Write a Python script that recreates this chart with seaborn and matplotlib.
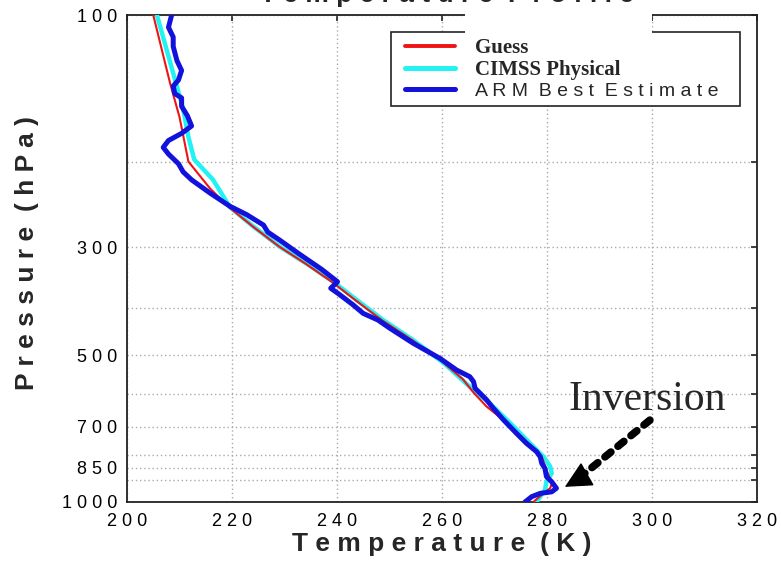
import matplotlib
matplotlib.use("Agg")
import matplotlib.pyplot as plt
import pandas as pd
import seaborn as sns
from matplotlib.lines import Line2D
from matplotlib.patches import Rectangle
from matplotlib.ticker import FixedLocator, NullFormatter

# --- profiles: pressure (hPa) and temperature (K) ---
guess_p = [100, 138, 162, 200, 227, 248, 272, 299, 324, 353, 385, 423, 465,
           510, 560, 596, 637, 689, 758, 807, 859, 917, 937, 960, 1000]
guess_t = [205.0, 208.2, 210.0, 211.7, 215.8, 219.4, 224.0, 229.0, 234.0,
           239.0, 243.5, 248.5, 254.3, 259.6, 264.0, 266.0, 268.5, 272.5,
           276.5, 279.0, 279.9, 280.9, 280.6, 279.3, 277.4]

cimss_p = [100, 156, 178, 198, 218, 248, 272, 299, 324, 353, 385, 423, 465,
           518, 580, 627, 689, 758, 807, 845, 873, 908, 945, 975, 1000]
cimss_t = [205.7, 210.7, 211.7, 212.8, 216.4, 219.6, 224.1, 229.1, 234.2,
           239.3, 243.8, 248.8, 254.5, 260.3, 265.3, 269.1, 273.0, 276.8,
           279.3, 280.6, 280.9, 279.9, 279.6, 278.7, 278.0]

arm_p = [100, 106, 111, 116, 124, 130, 136, 140, 145, 148, 154, 161, 169,
         175, 181, 187, 193, 202, 210, 218, 232, 247, 257, 270, 279, 290,
         309, 333, 353, 364, 373, 394, 410, 423, 440, 472, 507, 536, 553,
         566, 584, 617, 637, 678, 723, 758, 788, 807, 833, 853, 887, 909,
         937, 953, 960, 975, 1000]
arm_t = [208.5, 207.9, 208.8, 208.8, 209.5, 210.4, 209.8, 208.8, 209.1,
         210.4, 210.4, 211.5, 212.3, 210.4, 207.9, 206.9, 207.9, 209.8,
         210.7, 212.3, 215.8, 219.6, 222.8, 226.0, 226.8, 229.1, 232.7,
         237.1, 240.1, 238.8, 240.2, 243.1, 245.0, 247.8, 250.1, 254.5,
         259.6, 262.8, 265.3, 266.0, 266.3, 268.5, 269.5, 271.7, 274.2,
         276.1, 278.0, 278.7, 279.0, 279.6, 279.9, 280.9, 281.8, 280.9,
         278.7, 277.1, 275.8]

series_names = ["Guess", "CIMSS Physical", "ARM Best Estimate"]

x_ticks = [200, 220, 240, 260, 280, 300, 320]
y_ticks = [100, 300, 500, 700, 850, 1000]
y_minor = [200, 400, 600, 800, 900]

RED, CYAN, BLUE = "#ee1414", "#22f2f2", "#1212dc"


def spaced(s):
    """Letter-spaced rendering of a label."""
    return "  ".join(" ".join(w) for w in s.split(" "))


sns.set_theme(style="white")
plt.rcParams["font.family"] = ["Liberation Sans", "DejaVu Sans"]

fig = plt.figure(figsize=(7.81, 5.78), dpi=100)
ax = fig.add_axes([127 / 781, 76 / 578, 630 / 781, 487 / 578])

frames = {
    "CIMSS Physical": pd.DataFrame({"T": cimss_t, "P": cimss_p}),
    "Guess": pd.DataFrame({"T": guess_t, "P": guess_p}),
    "ARM Best Estimate": pd.DataFrame({"T": arm_t, "P": arm_p}),
}
styles = {"Guess": (RED, 1.5), "CIMSS Physical": (CYAN, 3.2),
          "ARM Best Estimate": (BLUE, 3.6)}
for name, df in frames.items():
    col, lw = styles[name]
    sns.lineplot(data=df, x="T", y="P", sort=False, estimator=None,
                 orient="y", color=col, lw=lw, ax=ax, zorder=3)

ax.set_yscale("log")
ax.set_xlim(200, 320)
ax.set_ylim(1000, 100)

ax.set_xticks(x_ticks, labels=[spaced(str(v)) for v in x_ticks])
ax.yaxis.set_major_locator(FixedLocator(y_ticks))
ax.set_yticklabels([spaced(str(v)) for v in y_ticks])
ax.yaxis.set_minor_locator(FixedLocator(y_minor))
ax.yaxis.set_minor_formatter(NullFormatter())

ax.grid(True, which="both", axis="y", color="#aaaaaa", ls=(0, (1, 2)), lw=1.0)
ax.grid(True, which="major", axis="x", color="#aaaaaa", ls=(0, (1, 2)), lw=1.0)
ax.set_axisbelow(True)

ax.tick_params(axis="both", which="both", direction="in", top=True,
               right=True, length=4, width=1.2, color="#222222",
               labelsize=13, labelcolor="black")
ax.tick_params(axis="x", pad=8)
ax.tick_params(axis="y", pad=7)
for sp in ax.spines.values():
    sp.set_color("#222222")
    sp.set_linewidth(1.3)

ax.set_xlabel(spaced("Temperature (K)"), fontsize=19, fontweight="bold")
ax.set_ylabel(spaced("Pressure (hPa)"), fontsize=19, fontweight="bold")
ax.xaxis.set_label_coords(0.5, -0.086)
ax.xaxis.label.set_verticalalignment("center")
ax.yaxis.set_label_coords(-0.159, 0.511)
ax.yaxis.label.set_verticalalignment("center")

# title, mostly above the top edge of the canvas
fig.text(447 / 781, 1 - 2 / 578, spaced("Temperature Profile"),
         ha="center", va="baseline", fontsize=19, fontweight="bold")

# legend box, white cover strip, then legend entries on top
ax.add_patch(Rectangle((0.419, 0.813), 0.554, 0.152, transform=ax.transAxes,
                       fc="white", ec="#222222", lw=1.2, zorder=4,
                       clip_on=False))
ax.add_patch(Rectangle((0.5365, 0.9487), 0.2968, 0.0575,
                       transform=ax.transAxes, fc="white", ec="none",
                       zorder=5, clip_on=False))
handles = [Line2D([], [], color=RED, lw=2.8),
           Line2D([], [], color=CYAN, lw=3.6),
           Line2D([], [], color=BLUE, lw=3.6)]
leg = ax.legend(handles, [series_names[0], series_names[1],
                          spaced(series_names[2])],
                loc="upper left", bbox_to_anchor=(0.441, 0.953),
                frameon=False, handlelength=2.6, handletextpad=1.0,
                labelspacing=0.12, fontsize=14, borderpad=0,
                borderaxespad=0)
leg.set_zorder(6)
for t in leg.get_texts()[:2]:
    t.set_fontfamily(["Liberation Serif", "DejaVu Serif"])
    t.set_fontweight("bold")
    t.set_fontsize(15)

# inversion annotation
ax.text(284.0, 648, "Inversion", fontsize=30,
        fontfamily=["Liberation Serif", "DejaVu Serif"], va="baseline",
        ha="left", zorder=6)
ax.annotate("", xy=(286.0, 895), xytext=(299.6, 679),
            arrowprops=dict(arrowstyle="-", color="black", lw=5.5,
                            ls=(0, (1, 1.2)), shrinkA=0, shrinkB=0),
            zorder=6)
ax.annotate("", xy=(283.4, 931), xytext=(287.0, 885),
            arrowprops=dict(arrowstyle="-|>,head_length=0.9,head_width=0.45",
                            color="black", lw=1, mutation_scale=19,
                            shrinkA=0, shrinkB=0),
            zorder=6)

fig.savefig("out.png", dpi=100, facecolor="white")
